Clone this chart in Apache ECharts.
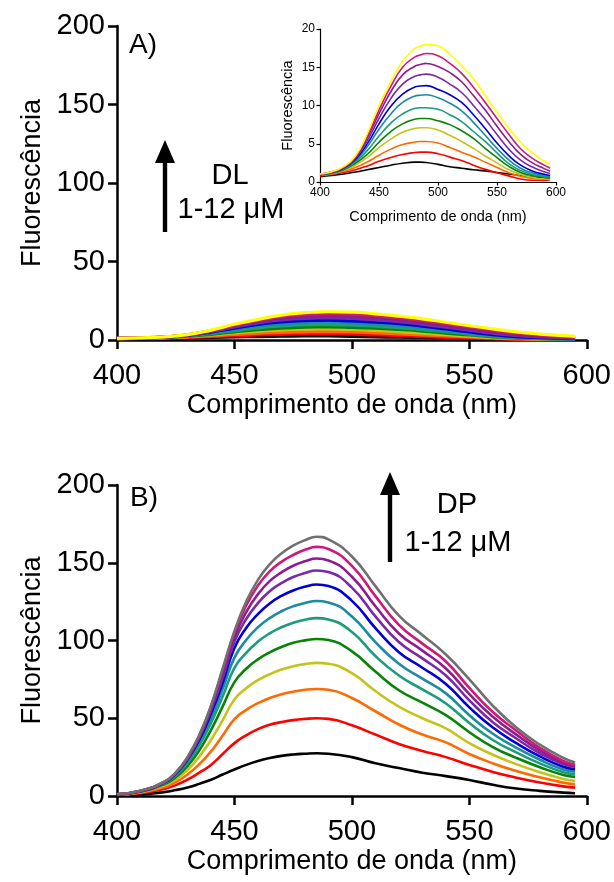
<!DOCTYPE html>
<html>
<head>
<meta charset="utf-8">
<title>Fluorescência DL / DP</title>
<script src="https://cdn.jsdelivr.net/npm/echarts@6/dist/echarts.min.js"></script>
<style>
  html, body { margin: 0; padding: 0; background: #ffffff; }
  #chart { width: 614px; height: 882px; }
</style>
</head>
<body>
<div id="chart"></div>
<script>
// Emission wavelengths (nm) for each titration
const wavelengthDL = [400, 410, 420, 430, 440, 450, 460, 470, 480, 485, 490, 500, 510, 520, 530, 540, 550, 560, 570, 580, 590, 595];
const wavelengthDP = [400, 410, 420, 425, 430, 435, 440, 445, 450, 455, 460, 465, 470, 475, 480, 485, 490, 500, 510, 520, 530, 540, 550, 560, 570, 580, 590, 595];

// DL titration, 1 to 12 uM (fluorescence, a.u.)
const dl01 = [0.7, 0.85, 1.05, 1.3, 1.6, 1.9, 2.2, 2.45, 2.6, 2.6, 2.55, 2.3, 2.0, 1.8, 1.6, 1.45, 1.25, 1.05, 0.85, 0.65, 0.5, 0.45];
const dl02 = [0.8, 1.0, 1.25, 1.6, 2.1, 2.7, 3.2, 3.6, 3.85, 3.9, 3.9, 3.7, 3.25, 2.8, 2.2, 1.65, 1.2, 0.8, 0.4, 0.22, 0.2, 0.3];
const dl03 = [0.85, 1.05, 1.4, 1.9, 2.6, 3.5, 4.3, 4.9, 5.2, 5.3, 5.3, 5.1, 4.5, 3.9, 3.3, 2.6, 1.9, 1.2, 0.75, 0.45, 0.35, 0.35];
const dl04 = [0.9, 1.1, 1.5, 2.2, 3.2, 4.5, 5.6, 6.5, 7.0, 7.1, 7.1, 6.8, 6.1, 5.3, 4.4, 3.4, 2.5, 1.6, 1.0, 0.6, 0.42, 0.38];
const dl05 = [0.9, 1.15, 1.6, 2.45, 3.6, 5.2, 6.6, 7.6, 8.2, 8.3, 8.3, 8.0, 7.5, 6.7, 5.7, 4.4, 3.2, 2.05, 1.25, 0.85, 0.6, 0.5];
const dl06 = [0.95, 1.2, 1.7, 2.65, 4.1, 6.0, 7.7, 8.9, 9.6, 9.7, 9.7, 9.5, 8.8, 7.9, 6.6, 5.3, 3.8, 2.4, 1.5, 1.0, 0.72, 0.6];
const dl07 = [0.95, 1.2, 1.75, 2.8, 4.6, 6.9, 8.9, 10.4, 11.2, 11.35, 11.4, 11.0, 10.3, 9.3, 7.8, 6.1, 4.4, 2.9, 1.8, 1.2, 0.82, 0.7];
const dl08 = [1.0, 1.25, 1.8, 2.95, 5.0, 7.6, 9.9, 11.5, 12.4, 12.55, 12.6, 12.1, 11.4, 10.4, 8.8, 7.0, 5.1, 3.45, 2.2, 1.45, 1.0, 0.85];
const dl09 = [1.0, 1.3, 1.85, 3.1, 5.4, 8.3, 10.9, 12.8, 13.8, 14.0, 14.1, 13.7, 12.8, 11.7, 10.0, 8.2, 6.2, 4.3, 2.85, 1.95, 1.35, 1.1];
const dl10 = [1.0, 1.3, 1.9, 3.2, 5.8, 8.9, 11.8, 14.0, 15.1, 15.35, 15.5, 15.1, 14.3, 13.1, 11.3, 9.4, 7.3, 5.3, 3.6, 2.5, 1.75, 1.4];
const dl11 = [1.05, 1.35, 1.95, 3.3, 6.0, 9.4, 12.5, 15.0, 16.3, 16.6, 16.8, 16.5, 15.5, 14.2, 12.4, 10.4, 8.3, 6.25, 4.35, 3.1, 2.2, 1.8];
const dl12 = [1.05, 1.35, 2.0, 3.4, 6.3, 10.0, 13.1, 15.8, 17.4, 17.75, 18.0, 17.8, 16.7, 15.2, 13.5, 11.3, 9.1, 7.05, 5.2, 3.8, 2.75, 2.3];

// DP titration, 1 to 12 uM (fluorescence, a.u.)
const dp01 = [0.5, 1.0, 2.5, 3.8, 5.5, 7.8, 10.5, 13.8, 17, 20, 22.5, 24.4, 25.8, 26.7, 27.2, 27.5, 27.2, 25, 21, 18, 15, 12.8, 10.3, 7.2, 4.8, 3.3, 2.2, 1.8];
const dp02 = [0.6, 1.8, 4.5, 7, 10.5, 15, 20, 27, 34, 39, 43, 45.8, 47.5, 48.8, 49.6, 50, 49.6, 45.5, 39.5, 33.5, 29, 25, 20, 15.5, 11.8, 8.7, 6.2, 5.4];
const dp03 = [0.7, 2.2, 5.6, 8.9, 13.8, 20.3, 28.6, 38.9, 49.5, 55.4, 59.7, 63, 65.4, 67.1, 68.3, 68.8, 68.3, 63, 54.5, 46, 39.5, 34.5, 27, 21, 16, 12, 8.6, 7.5];
const dp04 = [0.8, 2.5, 6.7, 10.7, 16.7, 25.3, 36, 48.8, 62.1, 69.3, 74.5, 78.3, 81.3, 83.5, 84.8, 85.6, 85, 79, 67.5, 57.5, 50, 43.5, 34, 26.5, 20.5, 15.3, 11, 9.7];
const dp05 = [0.9, 2.8, 7.5, 12.1, 19.2, 29.3, 42.4, 57.6, 73.2, 81.8, 87.9, 92.4, 95.8, 98.5, 100.1, 101, 100.3, 93, 80, 68, 60, 52, 41, 31.5, 24.5, 18.5, 13.5, 12.3];
const dp06 = [1.0, 3.0, 8, 13.2, 21.2, 32.6, 46.9, 64.1, 82.4, 92.1, 99.3, 104.6, 108.5, 111.4, 113.4, 114.4, 113.5, 105.5, 90, 77.5, 68.5, 59.5, 47, 36, 28, 21, 15.3, 14];
const dp07 = [1.0, 3.0, 8.3, 13.8, 22.6, 34.5, 50.2, 69, 89, 100.3, 108.5, 114.4, 118.8, 122, 124.1, 125.4, 124.5, 115.5, 99, 85, 75.5, 66, 52, 40, 31, 23.3, 17, 15.7];
const dp08 = [1.0, 3.1, 8.4, 14.3, 23.4, 36, 53, 72.8, 95.2, 108.1, 117, 123.8, 128.7, 132.2, 134.6, 136, 135, 125.5, 108, 92.5, 82.5, 72, 57, 44, 34, 25.5, 18.8, 17.2];
const dp09 = [1.1, 3.2, 8.7, 14.5, 23.9, 37.4, 55.1, 76.1, 99.3, 113.8, 124, 131.7, 136.9, 140.8, 143.4, 145, 144, 134, 115.5, 99, 88.5, 77.5, 61.5, 47.5, 37, 27.5, 20.5, 18.7];
const dp10 = [1.1, 3.2, 8.9, 14.8, 24.4, 38.2, 56.5, 78.6, 102.3, 118.3, 129.8, 138.2, 143.8, 148.1, 150.9, 152.7, 151.5, 141, 122, 104.5, 93.5, 82, 65.5, 51, 39.5, 29.3, 21.5, 19.4];
const dp11 = [1.1, 3.3, 9, 15, 24.8, 38.8, 57.7, 81, 105, 122.5, 135.4, 144.5, 150.6, 155, 158.3, 160.2, 158.8, 148, 128.5, 110, 98, 86.5, 69.5, 54, 42, 31, 22.5, 20];
const dp12 = [1.2, 3.4, 9, 15, 25, 39, 58, 82, 106, 125, 139, 149, 156, 161, 164.5, 166.7, 165, 154, 135, 116, 103.5, 91, 75, 58, 44, 33, 24.5, 21.5];

// Tick values
const xTicks = [400, 450, 500, 550, 600];
const yTicksMain = [0, 50, 100, 150, 200];
const yTicksInset = [0, 5, 10, 15, 20];

const dlSets = [dl01, dl02, dl03, dl04, dl05, dl06, dl07, dl08, dl09, dl10, dl11, dl12];
const dpSets = [dp01, dp02, dp03, dp04, dp05, dp06, dp07, dp08, dp09, dp10, dp11, dp12];

const baseColors = ['#000000', '#ff0000', '#ff6a00', '#c3c31a', '#078407', '#1b9c7c',
                    '#1a8ba3', '#0000d2', '#7a2aa8', '#8e1c8c', '#cc1a78'];
const dlColors = baseColors.concat(['#ffff00']);
const dpColors = baseColors.concat(['#707070']);

const FONT = 'Liberation Sans, Arial, sans-serif';

function xAxisFor(gridIndex, big) {
  return {
    type: 'value', gridIndex: gridIndex,
    min: xTicks[0], max: xTicks[xTicks.length - 1], interval: xTicks[1] - xTicks[0],
    name: 'Comprimento de onda (nm)', nameLocation: 'middle',
    nameGap: big ? 52 : 27,
    nameTextStyle: { color: '#000', fontFamily: FONT, fontSize: big ? 27 : 14.5 },
    axisLine: { onZero: false, lineStyle: { color: '#000', width: big ? 2.5 : 1.2 } },
    axisTick: { show: true, inside: false, length: big ? 9 : 3.5, lineStyle: { color: '#000', width: big ? 2.5 : 1.2 } },
    axisLabel: { color: '#000', fontFamily: FONT, fontSize: big ? 29 : 12, margin: big ? 21 : 5 },
    splitLine: { show: false }
  };
}

function yAxisFor(gridIndex, big, ticks) {
  return {
    type: 'value', gridIndex: gridIndex,
    min: ticks[0], max: ticks[ticks.length - 1], interval: ticks[1] - ticks[0],
    name: 'Fluorescência', nameLocation: 'middle', nameRotate: 90,
    nameGap: big ? 66 : 25,
    nameTextStyle: { color: '#000', fontFamily: FONT, fontSize: big ? 27 : 14.5 },
    axisLine: { onZero: false, lineStyle: { color: '#000', width: big ? 2.5 : 1.2 } },
    axisTick: { show: true, inside: false, length: big ? 9 : 3.5, lineStyle: { color: '#000', width: big ? 2.5 : 1.2 } },
    axisLabel: { color: '#000', fontFamily: FONT, fontSize: big ? 29 : 12, margin: big ? 12 : 5 },
    splitLine: { show: false }
  };
}

function curves(xs, sets, colors, axisIndex, width) {
  return sets.map(function (vals, k) {
    return {
      type: 'line', xAxisIndex: axisIndex, yAxisIndex: axisIndex,
      data: xs.map(function (w, i) { return [w, vals[i]]; }),
      showSymbol: false, smooth: true, silent: true,
      lineStyle: { color: colors[k], width: width },
      z: 2
    };
  });
}

// Arrow marking the titration direction
function arrow(x, yTop, yBottom) {
  return [
    { type: 'rect', shape: { x: x - 2.2, y: yTop + 18, width: 4.4, height: yBottom - yTop - 18 }, style: { fill: '#000' } },
    { type: 'polygon', shape: { points: [[x, yTop], [x - 10, yTop + 23], [x + 10, yTop + 23]] }, style: { fill: '#000' } }
  ];
}
function label(text, cx, cy, size) {
  return { type: 'text', x: cx, y: cy, style: { text: text, fill: '#000', font: size + 'px ' + FONT, align: 'center', verticalAlign: 'middle' } };
}

const chart = echarts.init(document.getElementById('chart'), null, { renderer: 'canvas' });
chart.setOption({
  animation: false,
  backgroundColor: '#ffffff',
  grid: [
    { left: 117, top: 26, width: 470, height: 314 },
    { left: 320, top: 29, width: 236, height: 153 },
    { left: 117, top: 485, width: 470, height: 311 }
  ],
  xAxis: [xAxisFor(0, true), xAxisFor(1, false), xAxisFor(2, true)],
  yAxis: [yAxisFor(0, true, yTicksMain), yAxisFor(1, false, yTicksInset), yAxisFor(2, true, yTicksMain)],
  series: [].concat(
    curves(wavelengthDL, dlSets, dlColors, 0, 3.2),
    curves(wavelengthDL, dlSets, dlColors, 1, 1.6),
    curves(wavelengthDP, dpSets, dpColors, 2, 2.6)
  ),
  graphic: [].concat(
    [label('A)', 143, 45, 28), label('B)', 144, 498, 28)],
    arrow(165, 140, 232),
    [label('DL', 230, 176, 29), label('1-12 \u03bcM', 231, 210, 29)],
    arrow(390, 472, 562),
    [label('DP', 457, 505, 29), label('1-12 \u03bcM', 458, 543, 29)]
  )
});
</script>
</body>
</html>
